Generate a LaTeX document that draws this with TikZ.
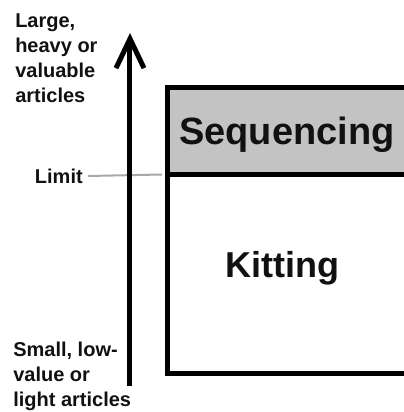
\documentclass[tikz,border=0pt]{standalone}
\usepackage{fontspec}
\setmainfont{Liberation Sans}
\usetikzlibrary{arrows.meta}
\definecolor{inkdark}{RGB}{17,17,17}
\definecolor{bandgray}{RGB}{195,195,195}
\definecolor{limitgray}{RGB}{168,168,168}
\begin{document}
\begin{tikzpicture}[x=0.75pt,y=-0.75pt,
  region/.style={draw=black, line width=3.75pt, miter limit=10, inner sep=0pt,
    outer sep=0pt, anchor=north west, minimum width=239*0.75pt},
  smalllabel/.style={text=inkdark, inner sep=0pt, align=left, anchor=base west,
    font=\fontsize{15}{18.75}\selectfont\bfseries},
  biglabel/.style={text=inkdark, inner sep=0pt, anchor=base west},
  axisline/.style={line width=3.75pt, -{Straight Barb[length=22pt,width=21pt,line width=3.75pt]}},
  limitline/.style={draw=limitgray, line width=1.5pt}]
  \useasboundingbox (0,0) rectangle (404,412);
  \clip (0,0) rectangle (404,412);

  % sequencing band and kitting area
  \node[region, fill=bandgray, minimum height=87*0.75pt] (seq) at (167.5,87.5) {};
  \node[region, fill=white, minimum height=199*0.75pt] (kit) at (167.5,174.5) {};
  \node[biglabel, font=\fontsize{28.5}{34}\selectfont\bfseries] (seqlabel) at (179,144) {Sequencing};
  \node[biglabel, font=\fontsize{27}{32}\selectfont\bfseries] (kitlabel) at (225,277) {Kitting};

  % limit marker
  \node[smalllabel, anchor=east] (limit) at (83,176) {Limit};
  \draw[limitline] ([xshift=5*0.75pt]limit.east) -- ([xshift=-5.5*0.75pt]kit.north west);

  % vertical axis
  \coordinate (axislow) at (130,386);
  \coordinate (axishigh) at (130,33);
  \draw[axisline] (axislow) -- (axishigh);

  % axis end labels (anchored at the baseline of their last line)
  \node[smalllabel] (high) at (15,102) {Large,\\heavy or\\valuable\\articles};
  \node[smalllabel] (low) at (13,406) {Small, low-\\value or\\light articles};
\end{tikzpicture}
\end{document}
